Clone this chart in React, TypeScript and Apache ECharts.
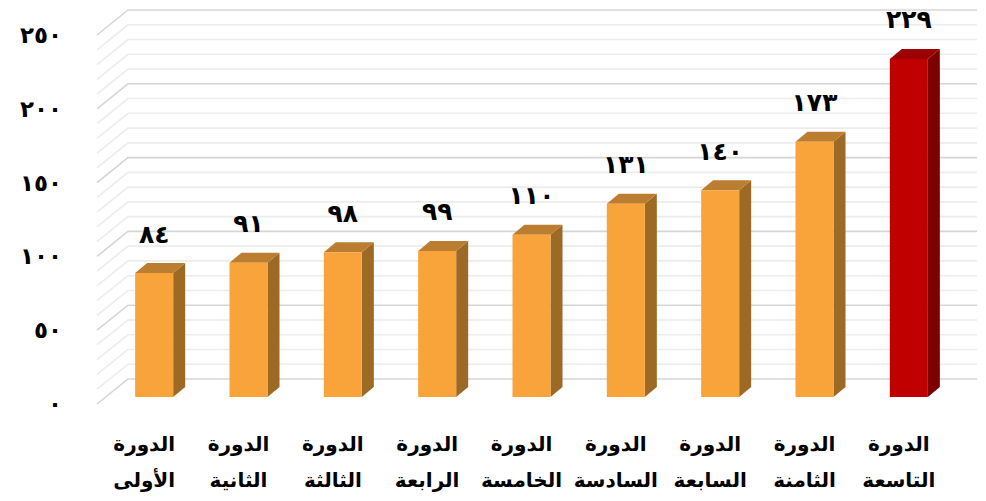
import React, { useEffect, useRef } from "react";
import * as echarts from "echarts";

// ---- data ----
const ordinals = ["الأولى", "الثانية", "الثالثة", "الرابعة", "الخامسة", "السادسة", "السابعة", "الثامنة", "التاسعة"];
const categories = ordinals.map((o) => "الدورة\n" + o);
const values = [84, 91, 98, 99, 110, 131, 140, 173, 229];
const highlightIndex = 8;
const yMin = 0;
const yMax = 250;
const yInterval = 50;
const minorStep = 10;

const arabicDigits = "٠١٢٣٤٥٦٧٨٩";
const toArabic = (n: number) => String(n).replace(/\d/g, (d) => arabicDigits[+d]);

const FONT = "'DejaVu Sans', sans-serif";

export default function App() {
  const ref = useRef<HTMLDivElement>(null);

  useEffect(() => {
    if (!ref.current) return;
    const chart = echarts.init(ref.current, undefined, { renderer: "svg" });

    const wallLevels: number[][] = [];
    for (let v = yMin; v <= yMax; v += minorStep) wallLevels.push([0, v]);

    const depthX = 31;
    const depthY = -25;

    const option: any = {
      animation: false,
      backgroundColor: "#ffffff",
      grid: { left: 97, right: 40, top: 35, bottom: 97 },
      xAxis: {
        type: "category",
        data: categories,
        axisLine: { show: false },
        axisTick: { show: false },
        splitLine: { show: false },
        axisLabel: {
          color: "#000",
          fontFamily: FONT,
          fontWeight: "bold",
          fontSize: 20,
          lineHeight: 36,
          margin: 22,
          interval: 0,
        },
      },
      yAxis: {
        type: "value",
        min: yMin,
        max: yMax,
        interval: yInterval,
        axisLine: { show: false },
        axisTick: { show: false },
        splitLine: { show: false },
        axisLabel: {
          color: "#000",
          fontFamily: FONT,
          fontWeight: "bold",
          fontSize: 23,
          margin: 35,
          formatter: (v: number) => toArabic(v),
        },
      },
      series: [
        {
          type: "custom",
          z: 1,
          silent: true,
          data: wallLevels,
          renderItem: (params: any, api: any) => {
            const v = api.value(1);
            const cs = params.coordSys;
            const y = api.coord([0, v])[1];
            const major = v % yInterval === 0;
            return {
              type: "polyline",
              shape: {
                points: [
                  [cs.x, y],
                  [cs.x + depthX, y + depthY],
                  [cs.x + cs.width + depthX, y + depthY],
                ],
              },
              style: {
                stroke: major ? "#d6d6d6" : "#ececec",
                lineWidth: 1.6,
                fill: null,
              },
            };
          },
        },
        {
          type: "custom",
          z: 2,
          data: values.map((v, i) => [i, v]),
          renderItem: (params: any, api: any) => {
            const i = api.value(0);
            const v = api.value(1);
            const top = api.coord([i, v]);
            const base = api.coord([i, 0]);
            const band = api.size([1, 0])[0];
            const w = band * 0.403;
            const cx = top[0] + 10;
            const yT = top[1] - 7;
            const yB = base[1] - 7;
            const x0 = cx - w / 2;
            const x1 = cx + w / 2;
            const dx = 12;
            const dy = -10;
            const hl = i === highlightIndex;
            const front = hl ? "#c00000" : "#f9a43b";
            const side = hl ? "#7d0000" : "#9d6a26";
            const topC = hl ? "#9c0000" : "#bb7d2f";
            return {
              type: "group",
              children: [
                {
                  type: "polygon",
                  shape: { points: [[x1, yT], [x1 + dx, yT + dy], [x1 + dx, yB + dy], [x1, yB]] },
                  style: { fill: side },
                },
                {
                  type: "polygon",
                  shape: { points: [[x0, yT], [x0 + dx, yT + dy], [x1 + dx, yT + dy], [x1, yT]] },
                  style: { fill: topC },
                },
                {
                  type: "rect",
                  shape: { x: x0, y: yT, width: w, height: yB - yT },
                  style: { fill: front },
                },
                {
                  type: "text",
                  x: cx,
                  y: yT - 39,
                  style: {
                    text: toArabic(v),
                    fill: "#000",
                    fontFamily: FONT,
                    fontWeight: "bold",
                    fontSize: 25,
                    align: "center",
                    verticalAlign: "middle",
                  },
                },
              ],
            };
          },
        },
      ],
    };

    chart.setOption(option);
    return () => chart.dispose();
  }, []);

  return <div ref={ref} style={{ width: 986, height: 501, margin: -8 }} />;
}
